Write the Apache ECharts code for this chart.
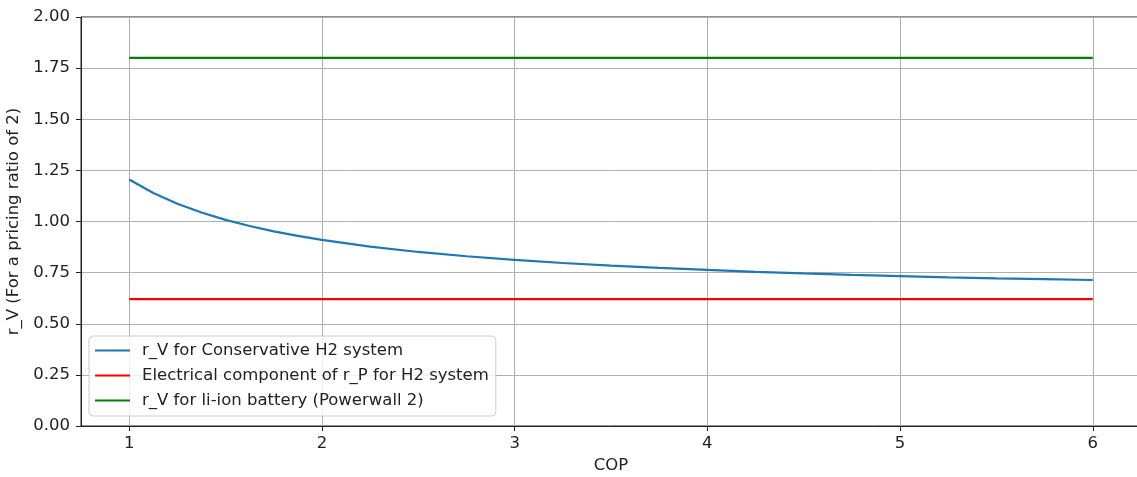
<!DOCTYPE html>
<html>
<head>
<meta charset="utf-8">
<script src="https://cdn.jsdelivr.net/npm/echarts@6/dist/echarts.min.js"></script>
<style>
  html, body { margin: 0; padding: 0; background: #fff; }
  #chart { width: 1137px; height: 477px; }
</style>
</head>
<body>
<div id="chart"></div>
<script>
const cop = [1, 1.125, 1.25, 1.375, 1.5, 1.625, 1.75, 1.875, 2, 2.25, 2.5, 2.75, 3, 3.25, 3.5, 3.75, 4, 4.25, 4.5, 4.75, 5, 5.25, 5.5, 5.75, 6]
// r_V for conservative H2 system
const rvH2 = [1.205, 1.139, 1.087, 1.044, 1.008, 0.978, 0.952, 0.930, 0.91, 0.877, 0.851, 0.830, 0.812, 0.797, 0.784, 0.773, 0.763, 0.754, 0.746, 0.739, 0.733, 0.727, 0.722, 0.718, 0.714]
// flat references
const elecComponentH2 = 0.62
const rvLiIon = 1.80

const xTicks = [1, 2, 3, 4, 5, 6]
const seriesNames = [
  'r_V for Conservative H2 system',
  'Electrical component of r_P for H2 system',
  'r_V for li-ion battery (Powerwall 2)',
]

const FONT = 'DejaVu Sans'
const FS = 16.5
const INK = '#222'
const chart = echarts.init(document.getElementById('chart'), null, { renderer: 'canvas' })

const flat = (v) => [[cop[0], v], [cop[cop.length - 1], v]]
const pairs = cop.map((x, i) => [x, rvH2[i]])

chart.setOption({
  animation: false,
  textStyle: { fontFamily: FONT },
  grid: {
    left: 81, right: -4, top: 17, bottom: 51,
    outerBoundsMode: 'none', containLabel: false,
    show: true, borderColor: INK, borderWidth: 1, backgroundColor: 'transparent',
  },
  legend: {
    orient: 'vertical',
    left: 89, top: 336,
    padding: [6, 7, 7, 6],
    itemGap: 8,
    itemWidth: 35, itemHeight: 2,
    icon: 'rect',
    backgroundColor: 'rgba(255,255,255,0.8)',
    borderColor: '#cccccc', borderWidth: 1, borderRadius: 4,
    textStyle: { fontFamily: FONT, fontSize: FS, color: INK, padding: [0, 0, 0, 7] },
    data: seriesNames,
  },
  xAxis: {
    type: 'value',
    min: 0.75, max: 6.25,
    name: 'COP', nameLocation: 'middle', nameGap: 31,
    nameTextStyle: { fontFamily: FONT, fontSize: FS, color: INK },
    axisLine: { lineStyle: { color: INK, width: 1 } },
    axisTick: { show: true, length: 5, lineStyle: { color: INK }, customValues: xTicks },
    axisLabel: { fontFamily: FONT, fontSize: FS, color: INK, margin: 9, customValues: xTicks },
    splitLine: { show: true, lineStyle: { color: '#b0b0b0', width: 1 } },
  },
  yAxis: {
    type: 'value',
    min: 0, max: 2, interval: 0.25,
    name: 'r_V (For a pricing ratio of 2)', nameLocation: 'middle', nameGap: 58,
    nameTextStyle: { fontFamily: FONT, fontSize: FS, color: INK },
    axisLine: { show: true, lineStyle: { color: INK, width: 1 } },
    axisTick: { show: true, length: 5, lineStyle: { color: INK } },
    axisLabel: { fontFamily: FONT, fontSize: FS, color: INK, margin: 11, formatter: (v) => v.toFixed(2) },
    splitLine: { show: true, lineStyle: { color: '#b0b0b0', width: 1 } },
  },
  series: [
    {
      name: seriesNames[0], type: 'line', data: pairs,
      showSymbol: false, symbol: 'none',
      lineStyle: { color: '#1f77b4', width: 2.2 }, itemStyle: { color: '#1f77b4' },
    },
    {
      name: seriesNames[1], type: 'line', data: flat(elecComponentH2),
      showSymbol: false, symbol: 'none',
      lineStyle: { color: '#ff0000', width: 2.2 }, itemStyle: { color: '#ff0000' },
    },
    {
      name: seriesNames[2], type: 'line', data: flat(rvLiIon),
      showSymbol: false, symbol: 'none',
      lineStyle: { color: '#008000', width: 2.2 }, itemStyle: { color: '#008000' },
    },
  ],
})
</script>
</body>
</html>
